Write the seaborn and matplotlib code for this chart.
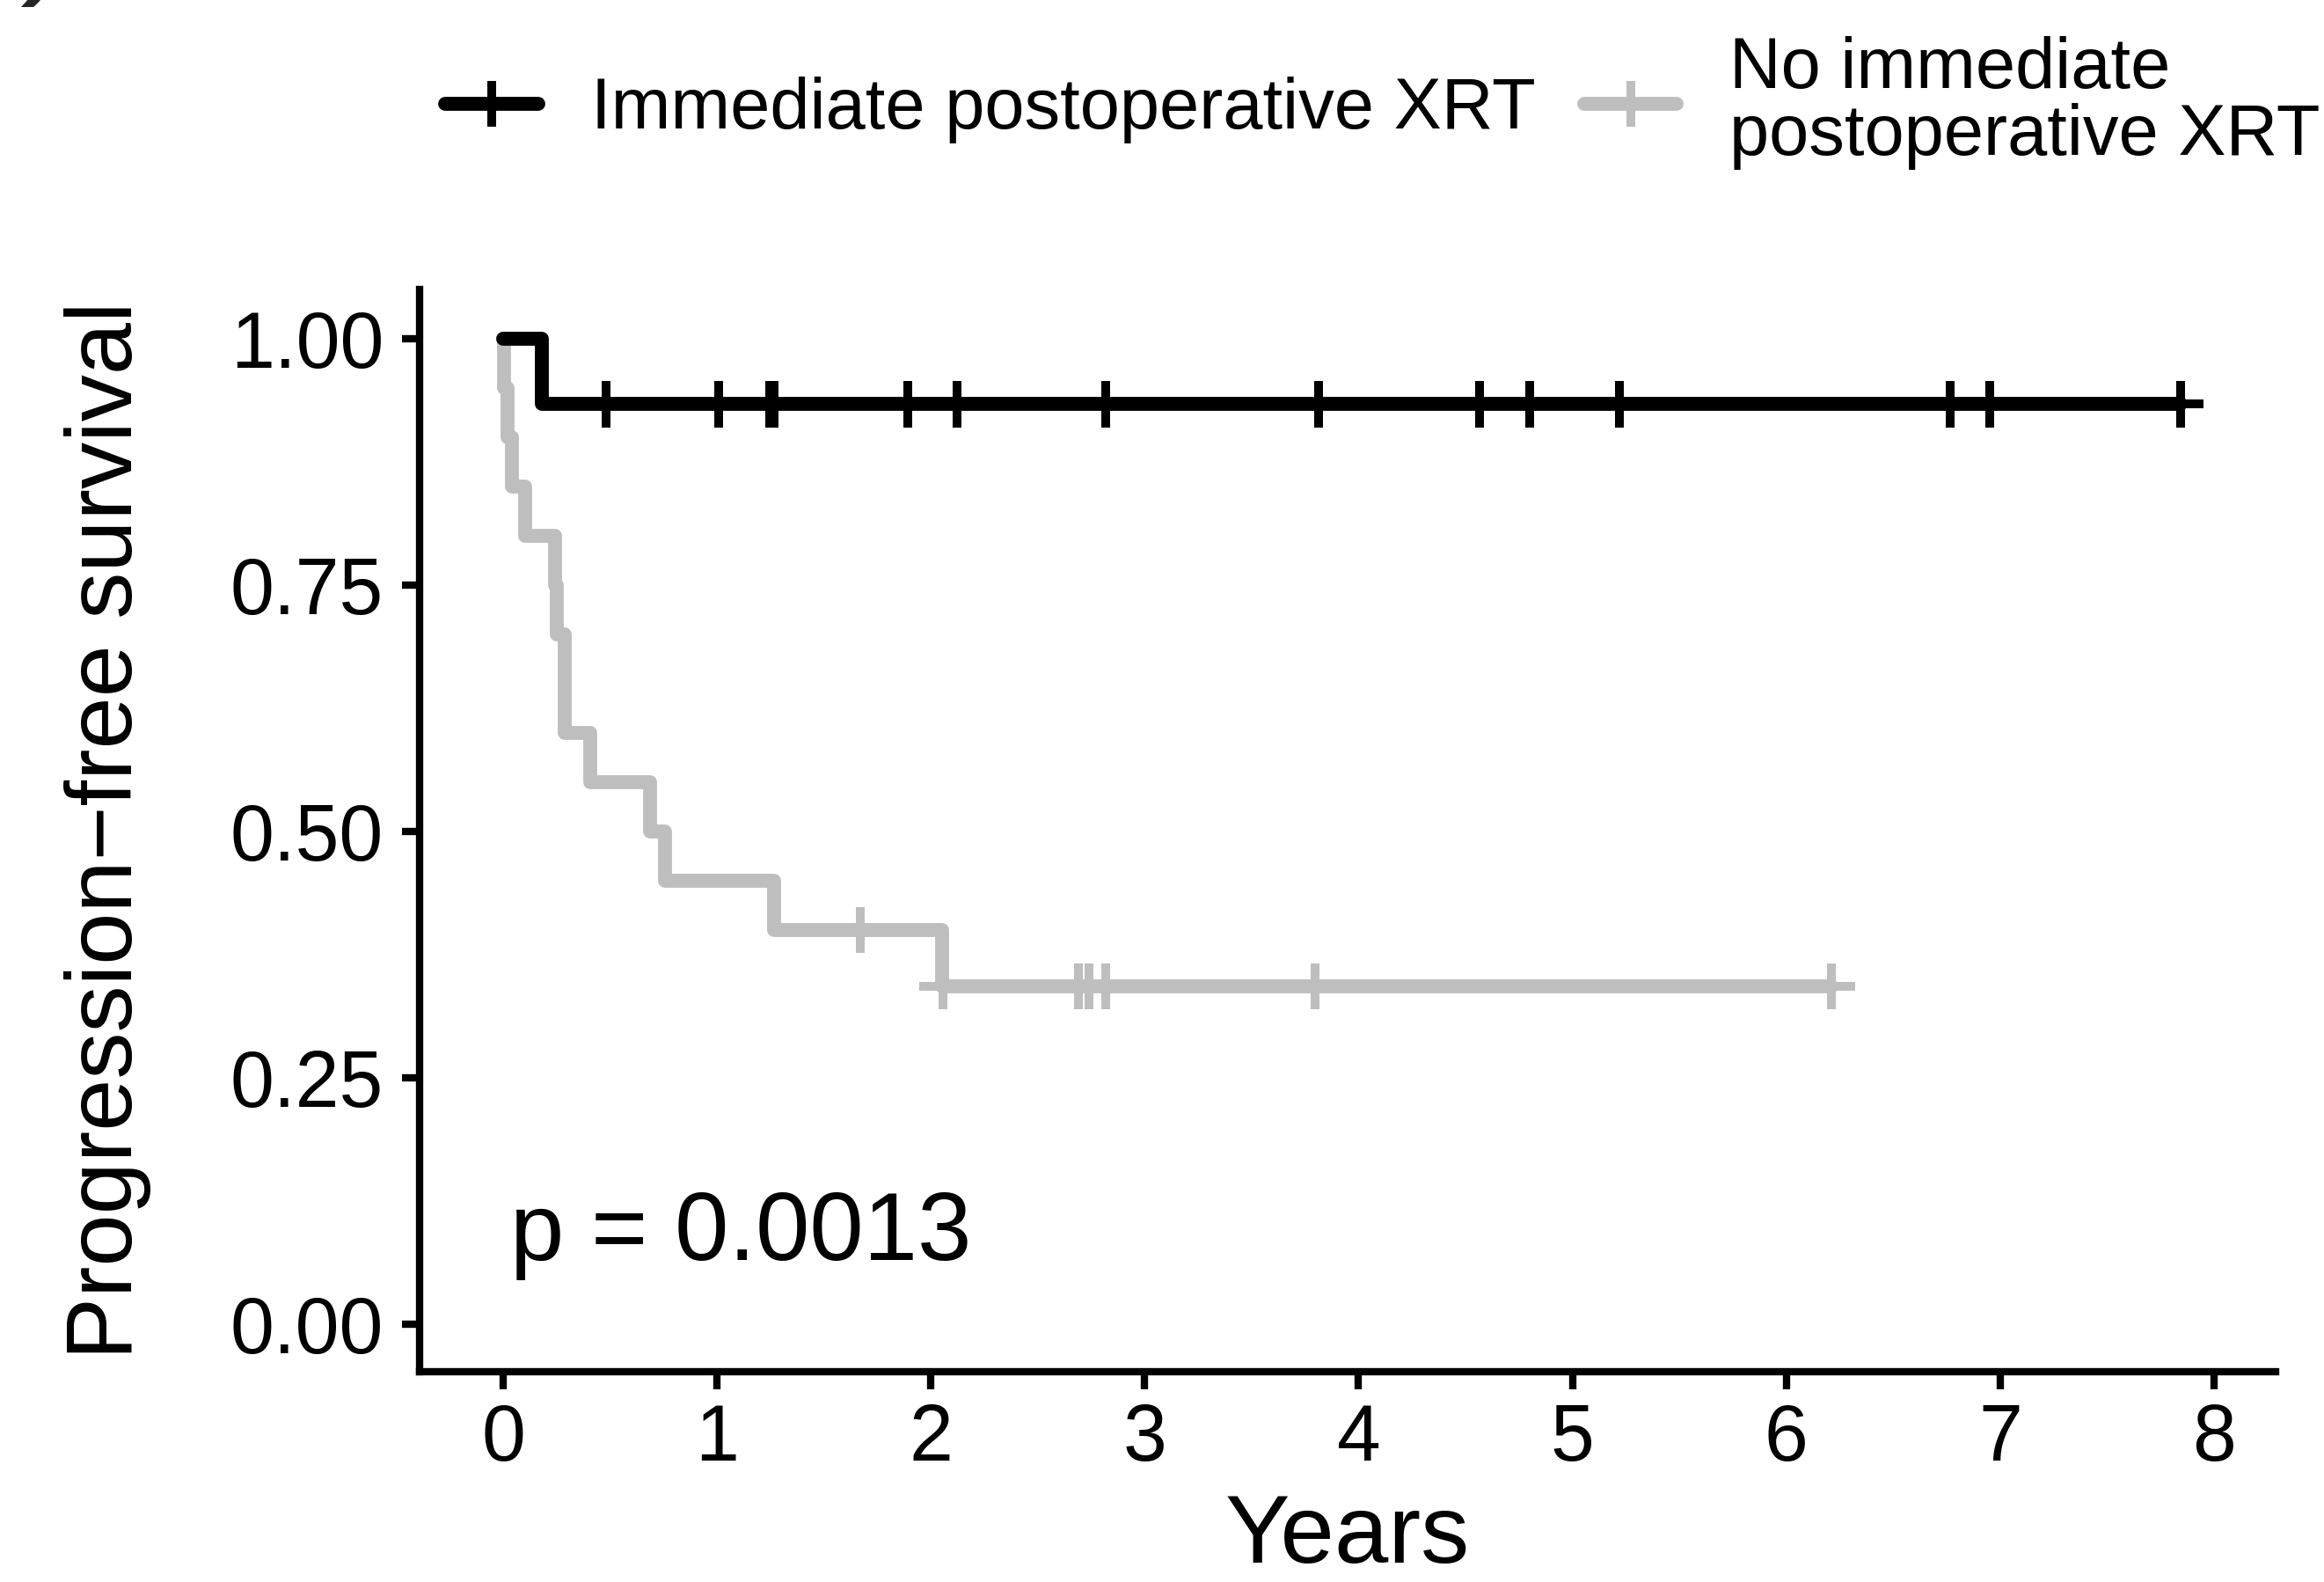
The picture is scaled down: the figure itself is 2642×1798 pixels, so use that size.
import numpy as np
import pandas as pd
import matplotlib
matplotlib.use("Agg")
import matplotlib.pyplot as plt
import seaborn as sns
from matplotlib.lines import Line2D

# ---------------- data ----------------
group_labels = ["Immediate postoperative XRT", "No immediate\npostoperative XRT"]
group_colors = ["#000000", "#BEBEBE"]

xrt_event_times = [0.183]
xrt_censor_times = [0.483, 1.007, 1.245, 1.268, 1.892, 2.123, 2.818, 3.811,
                    4.566, 4.802, 5.220, 6.767, 6.952, 7.842]

noxrt_event_times = [0.005, 0.022, 0.040, 0.101, 0.243, 0.250, 0.290, 0.290,
                     0.407, 0.686, 0.755, 1.265, 2.051]
noxrt_censor_times = [1.669, 2.056, 2.691, 2.739, 2.817, 3.796, 6.212]

x_ticks = [0, 1, 2, 3, 4, 5, 6, 7, 8]
y_ticks = [0.00, 0.25, 0.50, 0.75, 1.00]
y_tick_labels = ["0.00", "0.25", "0.50", "0.75", "1.00"]
x_label = "Years"
y_label = "Progression\u2212free survival"
p_label = "p = 0.0013"


def kaplan_meier(events, censors):
    times = sorted(set(events + censors))
    at_risk = len(events) + len(censors)
    s = 1.0
    xs, ys, cx, cy = [0.0], [1.0], [], []
    for t in times:
        d = events.count(t)
        c = censors.count(t)
        if d:
            s *= (at_risk - d) / at_risk
            xs.append(t)
            ys.append(s)
        if c:
            cx += [t] * c
            cy += [s] * c
        at_risk -= d + c
    xs.append(max(times))
    ys.append(s)
    return xs, ys, cx, cy


curves, marks = [], []
for lab, ev, ce in [(group_labels[0], xrt_event_times, xrt_censor_times),
                    (group_labels[1], noxrt_event_times, noxrt_censor_times)]:
    xs, ys, cx, cy = kaplan_meier(ev, ce)
    curves.append(pd.DataFrame({"time": xs, "surv": ys, "group": lab}))
    marks.append(pd.DataFrame({"time": cx, "surv": cy, "group": lab}))
curve_df = pd.concat(curves, ignore_index=True)
mark_df = pd.concat(marks, ignore_index=True)

# ---------------- style ----------------
sns.set_theme(style="ticks")
plt.rcParams["font.family"] = ["Liberation Sans", "DejaVu Sans"]
plt.rcParams["axes.linewidth"] = 2.0

fig = plt.figure(figsize=(2642 / 300, 1798 / 300), dpi=300)
ax = fig.add_axes([0.1805, 0.1329, 0.7987, 0.6841])

palette = dict(zip(group_labels, group_colors))
draw_order = [group_labels[1], group_labels[0]]

sns.lineplot(data=curve_df, x="time", y="surv", hue="group", hue_order=draw_order,
             palette=palette, estimator=None, sort=False, drawstyle="steps-post",
             linewidth=3.8, solid_joinstyle="round", legend=False, ax=ax)

mark_size = 12.7
sns.scatterplot(data=mark_df, x="time", y="surv", hue="group", hue_order=draw_order,
                palette=palette, marker="+", s=mark_size ** 2, linewidth=2.4,
                legend=False, ax=ax, zorder=3)

ax.text(0.033, 0.065, p_label, fontsize=26.5, ha="left", va="baseline", color="black")

ax.set_xlim(-0.391, 8.288)
ax.set_ylim(-0.048, 1.0496)
ax.set_xticks(x_ticks)
ax.set_xticklabels([str(t) for t in x_ticks])
ax.set_yticks(y_ticks)
ax.set_yticklabels(y_tick_labels)
ax.tick_params(axis="both", length=4.8, width=2.0, labelsize=21.5, color="black",
               labelcolor="black")
ax.tick_params(axis="y", pad=5.0)
ax.tick_params(axis="x", pad=3.5)
ax.set_xlabel(x_label, fontsize=26.5, color="black")
ax.set_ylabel(y_label, fontsize=25.5, color="black")
ax.yaxis.set_label_coords(-0.1445, 0.5)
ax.xaxis.set_label_coords(0.5, -0.112)
for sp in ["left", "bottom"]:
    ax.spines[sp].set_color("black")
    ax.spines[sp].set_linewidth(2.0)
sns.despine(ax=ax)

handles = [Line2D([], [], color=c, linewidth=3.8, marker="+", markersize=mark_size,
                  markeredgewidth=2.4) for c in group_colors]
leg = fig.legend(handles, group_labels, loc="center", bbox_to_anchor=(0.595, 0.935),
                 ncol=2, frameon=False, fontsize=19.5, handlelength=1.3,
                 handletextpad=0.74, columnspacing=0.68, borderpad=0,
                 borderaxespad=0, labelspacing=0.2)
for t in leg.get_texts():
    t.set_linespacing(1.0)
    t.set_color("black")

fig.text(0.012, 1.0078, ")", fontsize=25, ha="left", va="baseline",
         fontweight="bold", style="italic")

fig.savefig("out.png", dpi=300, facecolor="white")
